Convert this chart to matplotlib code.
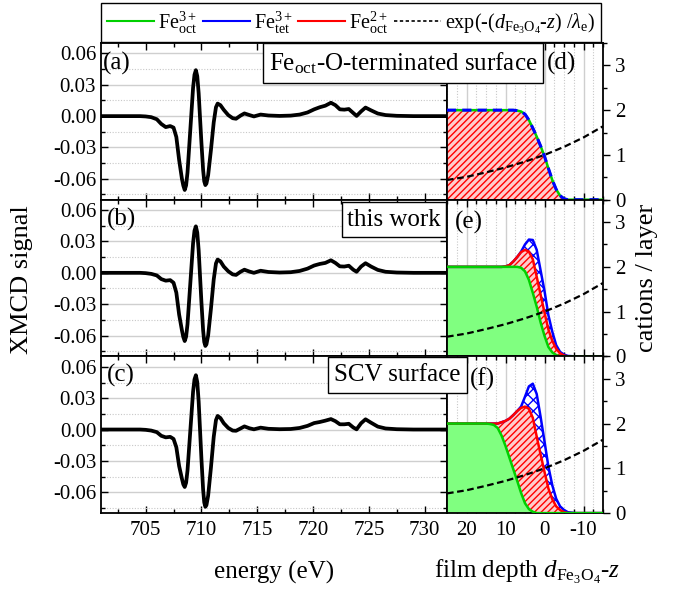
import numpy as np
import matplotlib
matplotlib.use("Agg")
import matplotlib.pyplot as plt
from matplotlib.patches import Rectangle
from matplotlib.lines import Line2D
from matplotlib.ticker import MultipleLocator, FormatStrFormatter

plt.rcParams['font.family'] = ['Liberation Serif', 'DejaVu Serif']
plt.rcParams['mathtext.fontset'] = 'custom'
plt.rcParams['mathtext.rm'] = 'Liberation Serif'
plt.rcParams['mathtext.it'] = 'Liberation Serif:italic'
plt.rcParams['mathtext.bf'] = 'Liberation Serif:bold'
plt.rcParams['axes.unicode_minus'] = False
plt.rcParams['hatch.linewidth'] = 1.0

# ---------------- data ----------------
energy = [701, 703, 704.5, 705, 705.5, 706, 706.4, 706.8, 707.2, 707.5, 707.75, 708, 708.25, 708.375,
          708.5, 708.625, 708.75, 709, 709.25, 709.375, 709.5, 709.625, 709.75, 710, 710.15, 710.25,
          710.35, 710.45, 710.6, 710.85, 711.1, 711.3, 711.45, 711.7, 712, 712.4, 712.8, 713.1,
          713.5, 713.85, 714.3, 714.7, 715.3, 716, 717, 718, 718.8, 719.5, 720.1, 720.6, 721.1,
          721.6, 722.0, 722.4, 722.8, 723.2, 723.6, 723.9, 724.3, 724.7, 725.2, 725.8, 726.5,
          727.5, 729, 732]

xmcd_a = [0, 0, 0, -0.0003, -0.001, -0.003, -0.0075, -0.0105, -0.0095, -0.011, -0.02, -0.042, -0.060, -0.0665,
          -0.0707, -0.0663, -0.054, -0.0134, 0.0272, 0.0396, 0.044, 0.0382, 0.022, -0.026, -0.0516, -0.0624,
          -0.066, -0.0644, -0.0565, -0.0324, -0.0059, 0.0085, 0.012, 0.0105, 0.006, 0.001, -0.002, -0.0025,
          0.0005, 0.0026, 0.001, -0.0003, 0.0015, 0.0006, 0.0002, 0.0005, 0.0015, 0.0035, 0.0065, 0.0085, 0.0100,
          0.0128, 0.0105, 0.0065, 0.0062, 0.0068, 0.003, 0.0002, 0.0045, 0.0082, 0.0055, 0.0025, 0.001,
          0.0003, 0, 0]

xmcd_b = [0, 0, 0, -0.0003, -0.001, -0.0025, -0.006, -0.0075, -0.007, -0.0095, -0.019, -0.040, -0.055, -0.0615,
          -0.0653, -0.0611, -0.0492, -0.0104, 0.0284, 0.0403, 0.0445, 0.0385, 0.0216, -0.0286, -0.0551, -0.0662,
          -0.070, -0.0683, -0.0599, -0.0344, -0.0063, 0.009, 0.0127, 0.011, 0.006, 0.0015, -0.0015, -0.002,
          0.001, 0.003, 0.0012, 0.0, 0.002, 0.0008, 0.0003, 0.0006, 0.0018, 0.004, 0.007, 0.0085, 0.0095,
          0.012, 0.0095, 0.0062, 0.0060, 0.0068, 0.003, 0.001, 0.006, 0.0092, 0.006, 0.0028, 0.001,
          0.0003, 0, 0]

xmcd_c = [0, 0, 0, -0.0003, -0.001, -0.0025, -0.006, -0.0075, -0.007, -0.009, -0.017, -0.035, -0.047, -0.0525,
          -0.055, -0.0509, -0.0393, -0.0015, 0.0363, 0.0479, 0.052, 0.0454, 0.0268, -0.0284, -0.0576, -0.0698,
          -0.074, -0.0722, -0.0633, -0.0365, -0.007, 0.009, 0.013, 0.011, 0.006, 0.0015, -0.001, -0.0012,
          0.001, 0.003, 0.0012, 0.0002, 0.0018, 0.0007, 0.0003, 0.0005, 0.0015, 0.0035, 0.0062, 0.0072, 0.0085,
          0.010, 0.008, 0.005, 0.0050, 0.0055, 0.002, 0.0002, 0.006, 0.0098, 0.0065, 0.0028, 0.001,
          0.0003, 0, 0]

depth = [25, 15, 14, 13, 12, 11, 10, 9, 8, 7, 6, 5, 4, 3, 2, 1, 0, -1, -2, -3, -4, -5, -6, -8, -15]

d_profile = [2.0, 2.0, 2.0, 2.0, 2.0, 2.0, 2.0, 2.0, 2.0, 1.99, 1.97, 1.91, 1.78, 1.60, 1.41, 1.20, 0.97, 0.70, 0.44, 0.23, 0.09, 0.02, 0.0, 0.0, 0.0]

e_green = [2.0, 2.0, 2.0, 2.0, 2.0, 2.0, 2.0, 2.0, 2.0, 2.0, 1.98, 1.90, 1.71, 1.42, 1.11, 0.76, 0.46, 0.21, 0.09, 0.03, 0.0, 0.0, 0.0, 0.0, 0.0]
e_red = [2.0, 2.0, 2.0, 2.0, 2.0, 2.0, 2.01, 2.04, 2.12, 2.22, 2.33, 2.38, 2.34, 2.17, 1.78, 1.38, 0.98, 0.60, 0.35, 0.17, 0.07, 0.02, 0.0, 0.0, 0.0]
e_blue = [2.0, 2.0, 2.0, 2.0, 2.0, 2.0, 2.01, 2.04, 2.12, 2.22, 2.34, 2.50, 2.61, 2.60, 2.38, 1.92, 1.46, 0.92, 0.55, 0.25, 0.10, 0.04, 0.01, 0.0, 0.0]

f_green = [2.0, 2.0, 1.99, 1.97, 1.90, 1.73, 1.50, 1.24, 0.98, 0.72, 0.45, 0.22, 0.09, 0.03, 0.0, 0.0, 0.0, 0.0, 0.0, 0.0, 0.0, 0.0, 0.0, 0.0, 0.0]
f_red = [2.0, 2.0, 2.0, 2.0, 2.0, 2.03, 2.06, 2.11, 2.19, 2.28, 2.35, 2.38, 2.33, 2.13, 1.71, 1.31, 0.92, 0.55, 0.31, 0.15, 0.07, 0.02, 0.0, 0.0, 0.0]
f_blue = [2.0, 2.0, 2.0, 2.0, 2.0, 2.03, 2.06, 2.11, 2.19, 2.28, 2.38, 2.60, 2.83, 2.89, 2.66, 2.15, 1.60, 1.04, 0.62, 0.32, 0.15, 0.07, 0.02, 0.0, 0.0]

exp_depth = [25, 20, 15, 10, 5, 0, -5, -10, -15]
exp_vals = [0.44, 0.51, 0.61, 0.72, 0.85, 1.0, 1.18, 1.39, 1.64]

panel_left = ['(a)', '(b)', '(c)']
panel_right = ['(d)', '(e)', '(f)']
titles = [r'Fe$_{\rm oct}$-O-terminated surface', 'this work', 'SCV surface']

legend_labels = [r'Fe$^{3+}_{\rm oct}$', r'Fe$^{3+}_{\rm tet}$', r'Fe$^{2+}_{\rm oct}$',
                 r'exp(-($d_{\rm Fe_3O_4}$-$z$) /$\lambda_{\rm e}$)']

# ---------------- style ----------------
GREEN = '#00d000'
GREEN_FILL = '#80ff80'
RED = '#ff0000'
RED_FILL = '#ffcccc'
BLUE = '#0000ff'

W, H = 673, 591
fig = plt.figure(figsize=(W / 100, H / 100), dpi=100)


def fx(px):
    return px / W


def fy(py):
    return 1 - py / H


tops = [43, 199.7, 356.4]
ph = 156.7
xl0, xl1, xr1 = 101, 447, 603

left_axes, right_axes = [], []
for i, top in enumerate(tops):
    axl = fig.add_axes([fx(xl0), fy(top + ph), (xl1 - xl0) / W, ph / H])
    axr = fig.add_axes([fx(xl1), fy(top + ph), (xr1 - xl1) / W, ph / H])
    left_axes.append(axl)
    right_axes.append(axr)

xmcds = [xmcd_a, xmcd_b, xmcd_c]
for i, ax in enumerate(left_axes):
    ax.plot(energy, xmcds[i], color='black', lw=2.7, solid_joinstyle='round', zorder=3)
    ax.set_xlim(701, 732)
    ax.set_ylim(-0.08, 0.07)
    ax.xaxis.set_major_locator(MultipleLocator(5))
    ax.xaxis.set_minor_locator(MultipleLocator(2.5))
    ax.yaxis.set_major_locator(MultipleLocator(0.03))
    ax.yaxis.set_minor_locator(MultipleLocator(0.015))
    ax.yaxis.set_major_formatter(FormatStrFormatter('%.2f'))
    ax.tick_params(which='both', direction='in', top=True, right=True, labelsize=15, width=1.0)
    ax.tick_params(which='major', length=5)
    ax.tick_params(which='minor', length=3)
    ax.grid(True, axis='y', which='major', color='#cfcfcf', lw=1.0)
    ax.grid(True, axis='y', which='minor', color='#c8c8c8', lw=0.8, ls=(0, (1, 1.5)))
    ax.set_axisbelow(True)
    for s in ax.spines.values():
        s.set_linewidth(1.3)
    if i < 2:
        ax.tick_params(labelbottom=False)
    else:
        ax.tick_params(axis='x', pad=6)

for i, ax in enumerate(right_axes):
    ax.set_xlim(25, -15)
    ax.set_ylim(0, 3.5)
    ax.xaxis.set_major_locator(MultipleLocator(10))
    ax.xaxis.set_minor_locator(MultipleLocator(2.5))
    ax.yaxis.set_major_locator(MultipleLocator(1))
    ax.yaxis.set_minor_locator(MultipleLocator(0.5))
    ax.tick_params(axis='x', which='both', direction='in', top=True, bottom=True, labelsize=15, width=1.0)
    ax.tick_params(axis='y', which='both', direction='out', left=False, right=True,
                   labelleft=False, labelright=True, labelsize=15, width=1.0)
    ax.tick_params(which='major', length=5)
    ax.tick_params(which='minor', length=3)
    ax.grid(True, axis='x', which='major', color='#cfcfcf', lw=1.0)
    ax.grid(True, axis='x', which='minor', color='#c8c8c8', lw=0.8, ls=(0, (1, 1.5)))
    ax.set_axisbelow(True)
    for s in ax.spines.values():
        s.set_linewidth(1.3)
    if i < 2:
        ax.tick_params(labelbottom=False)
    else:
        ax.tick_params(axis='x', pad=6)

# panel (d)
ax = right_axes[0]
ax.fill_between(depth, 0, d_profile, facecolor=RED_FILL, edgecolor=RED, hatch='/////', lw=0, zorder=1)
ax.plot(depth, d_profile, color=GREEN, lw=1.8, zorder=3)
ax.plot(depth, d_profile, color=BLUE, lw=2.2, ls=(0, (3, 2)), zorder=4)

# panels (e), (f)
for ax, g, r, b in [(right_axes[1], e_green, e_red, e_blue), (right_axes[2], f_green, f_red, f_blue)]:
    ax.fill_between(depth, 0, g, facecolor=GREEN_FILL, edgecolor='none', lw=0, zorder=1)
    ax.fill_between(depth, g, r, facecolor=RED_FILL, edgecolor=RED, hatch='/////', lw=0, zorder=1)
    ax.fill_between(depth, r, b, facecolor='white', edgecolor=BLUE, hatch='xxx', lw=0, zorder=1)
    ax.plot(depth, b, color=BLUE, lw=1.8, zorder=3)
    ax.plot(depth, r, color=RED, lw=1.8, zorder=3)
    ax.plot(depth, g, color=GREEN, lw=1.8, zorder=3)

for ax in right_axes:
    ax.plot(exp_depth, exp_vals, color='black', lw=1.6, ls=(0, (3, 1.6)), zorder=5)


# ---------------- text ----------------
def box(x0, y0, x1, y1, text):
    rect = Rectangle((fx(x0), fy(y1)), (x1 - x0) / W, (y1 - y0) / H, transform=fig.transFigure,
                     facecolor='white', edgecolor='black', lw=1.0, zorder=10)
    fig.add_artist(rect)
    fig.text(fx((x0 + x1) / 2), fy((y0 + y1) / 2), text, ha='center', va='center',
             fontsize=18, zorder=11)


box(263, 43, 543, 83, titles[0])
box(342, 202, 446, 237, titles[1])
box(328, 357, 467, 393, titles[2])

label_pos_left = [(103, 63), (107, 219), (107, 375)]
label_pos_right = [(547, 63), (455, 222), (470, 379)]
for lab, (x, y) in zip(panel_left, label_pos_left):
    fig.text(fx(x), fy(y), lab, ha='left', va='center', fontsize=18, zorder=12)
for lab, (x, y) in zip(panel_right, label_pos_right):
    fig.text(fx(x), fy(y), lab, ha='left', va='center', fontsize=18, zorder=12)

fig.text(fx(22), fy(280), 'XMCD signal', rotation=90, ha='center', va='center', fontsize=19)
fig.text(fx(647), fy(278), 'cations / layer', rotation=90, ha='center', va='center', fontsize=19)
fig.text(fx(274), fy(572), 'energy (eV)', ha='center', va='center', fontsize=18)
fig.text(fx(527), fy(572), r'film depth $d_{\rm Fe_3O_4}$-$z$', ha='center', va='center', fontsize=18)

# ---------------- legend ----------------
handles = [Line2D([], [], color=GREEN, lw=1.5),
           Line2D([], [], color=BLUE, lw=1.5),
           Line2D([], [], color=RED, lw=1.5),
           Line2D([], [], color='black', lw=1.2, ls=(0, (2, 1.5)))]
leg = fig.legend(handles, legend_labels, loc='upper left', ncol=4,
                 bbox_to_anchor=(fx(101), fy(3)),
                 fontsize=14.5, frameon=True, fancybox=False, framealpha=1, edgecolor='black',
                 handlelength=2.3, handletextpad=0.2, columnspacing=0.3, borderpad=0.32,
                 borderaxespad=0)
leg.get_frame().set_linewidth(1.0)

fig.savefig('out.png', dpi=100)
